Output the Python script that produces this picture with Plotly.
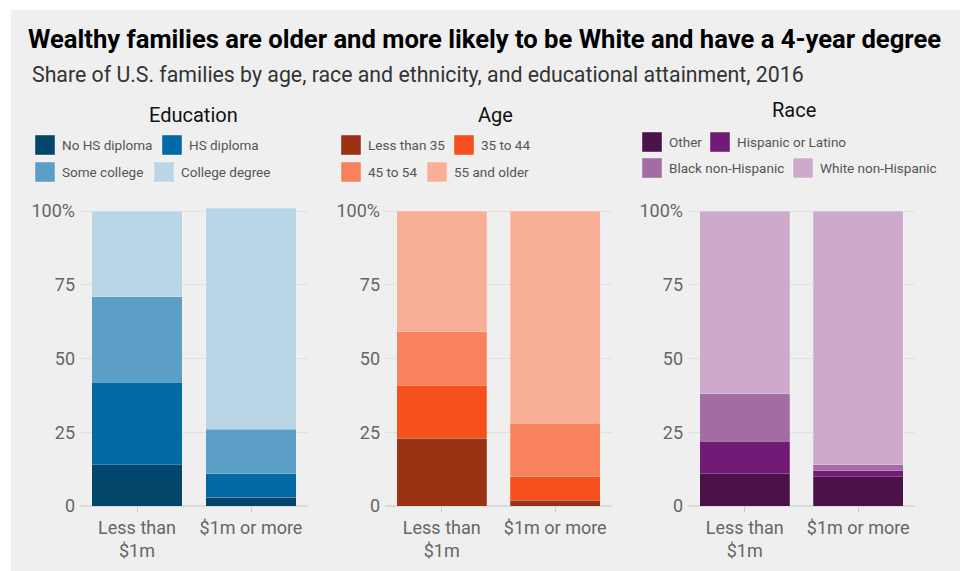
import plotly.graph_objects as go

W, H = 960, 571

categories = ["Less than<br>$1m", "$1m or more"]

edu_names = ["No HS diploma", "HS diploma", "Some college", "College degree"]
edu_values = [[14, 3], [28, 8], [29, 15], [29, 75]]
edu_colors = ["#02466b", "#0069a6", "#5b9fc6", "#b9d6e7"]

age_names = ["Less than 35", "35 to 44", "45 to 54", "55 and older"]
age_values = [[23, 2], [18, 8], [18, 18], [41, 72]]
age_colors = ["#9b3213", "#f6511d", "#f7825b", "#f9af97"]

race_names = ["Other", "Hispanic or Latino", "Black non-Hispanic", "White non-Hispanic"]
race_values = [[11, 10], [11, 2], [16, 2], [62, 86]]
race_colors = ["#4a1248", "#701b76", "#a36ca5", "#cdaacc"]

y_tickvals = [0, 25, 50, 75, 100]
y_ticktext = ["0", "25", "50", "75", "100%"]

FONT = "Roboto, Lato, sans-serif"

panels = [
    dict(title="Education", names=edu_names, values=edu_values, colors=edu_colors,
         xdom=(80, 308), title_xy=(193, 115), rows_y=(145, 172),
         item_x=[[35, 162], [35, 154]]),
    dict(title="Age", names=age_names, values=age_values, colors=age_colors,
         xdom=(385, 612), title_xy=(495, 115), rows_y=(145, 172),
         item_x=[[341, 454], [341, 427]]),
    dict(title="Race", names=race_names, values=race_values, colors=race_colors,
         xdom=(688, 915), title_xy=(794, 110), rows_y=(142, 168),
         item_x=[[642, 710], [642, 793]]),
]

fig = go.Figure()

y_max = 102
y0_px, y100_px = 506, 211
y_top_px = y0_px - (y0_px - y100_px) * y_max / 100
ydom = [(H - y0_px) / H, (H - y_top_px) / H]

shapes = [dict(type="rect", xref="paper", yref="paper", x0=11 / W, x1=1, y0=0, y1=1 - 10 / H,
               fillcolor="#efefef", line=dict(width=0), layer="below")]
annotations = []

for i, p in enumerate(panels):
    ax = "" if i == 0 else str(i + 1)
    for name, vals, col in zip(p["names"], p["values"], p["colors"]):
        fig.add_trace(go.Bar(
            x=categories, y=vals, name=name,
            marker=dict(color=col, line=dict(color="rgba(255,255,255,0.35)", width=0.6)),
            xaxis="x" + ax, yaxis="y" + ax, showlegend=False,
            hovertemplate=name + ": %{y}%<extra></extra>"))
    fig.update_layout(**{
        "xaxis" + ax: dict(domain=[p["xdom"][0] / W, p["xdom"][1] / W], anchor="y" + ax,
                           showgrid=False, ticks="outside", ticklen=5, tickcolor="#cccccc",
                           tickfont=dict(family=FONT, size=18, color="#666666"), showline=False,
                           automargin=False, fixedrange=True),
        "yaxis" + ax: dict(domain=ydom, anchor="x" + ax, range=[0, y_max],
                           tickvals=y_tickvals, ticktext=y_ticktext,
                           showgrid=True, gridcolor="#e0e0e0", gridwidth=1,
                           zeroline=True, zerolinecolor="#dadada", zerolinewidth=2,
                           tickfont=dict(family=FONT, size=18, color="#666666"),
                           ticks="", ticklabelstandoff=4, automargin=False, fixedrange=True),
    })
    tx, ty = p["title_xy"]
    annotations.append(dict(text=p["title"], x=tx / W, y=1 - ty / H, xref="paper", yref="paper",
                            showarrow=False, xanchor="center", yanchor="middle",
                            font=dict(family=FONT, size=20, color="#111111")))
    # legend (two rows of two entries)
    for k, (name, col) in enumerate(zip(p["names"], p["colors"])):
        r, c = divmod(k, 2)
        sx = p["item_x"][r][c]
        cy = p["rows_y"][r]
        shapes.append(dict(type="rect", xref="paper", yref="paper",
                           x0=sx / W, x1=(sx + 20) / W, y0=1 - (cy + 10) / H, y1=1 - (cy - 10) / H,
                           fillcolor=col, line=dict(color="rgba(255,255,255,0.4)", width=1)))
        annotations.append(dict(text=name, x=(sx + 25) / W, y=1 - cy / H, xref="paper", yref="paper",
                                showarrow=False, xanchor="left", yanchor="middle",
                                font=dict(family=FONT, size=13.5, color="#555555")))

annotations.append(dict(text="Share of U.S. families by age, race and ethnicity, and educational attainment, 2016",
                        x=30 / W, y=1 - 74 / H, xref="paper", yref="paper", showarrow=False,
                        xanchor="left", yanchor="middle",
                        font=dict(family=FONT, size=21.3, color="#333333")))

fig.update_layout(
    width=W, height=H,
    margin=dict(l=0, r=0, t=0, b=0, autoexpand=False),
    paper_bgcolor="white", plot_bgcolor="rgba(0,0,0,0)",
    barmode="stack", bargap=0.21,
    title=dict(text="<b>Wealthy families are older and more likely to be White and have a 4-year degree</b>",
               x=28 / W, xanchor="left", y=1 - 39 / H, yanchor="middle", xref="paper", yref="paper",
               font=dict(family=FONT, size=25.6, color="#000000"), automargin=False),
    shapes=shapes, annotations=annotations,
    showlegend=False,
)

fig.write_html("out.html")
